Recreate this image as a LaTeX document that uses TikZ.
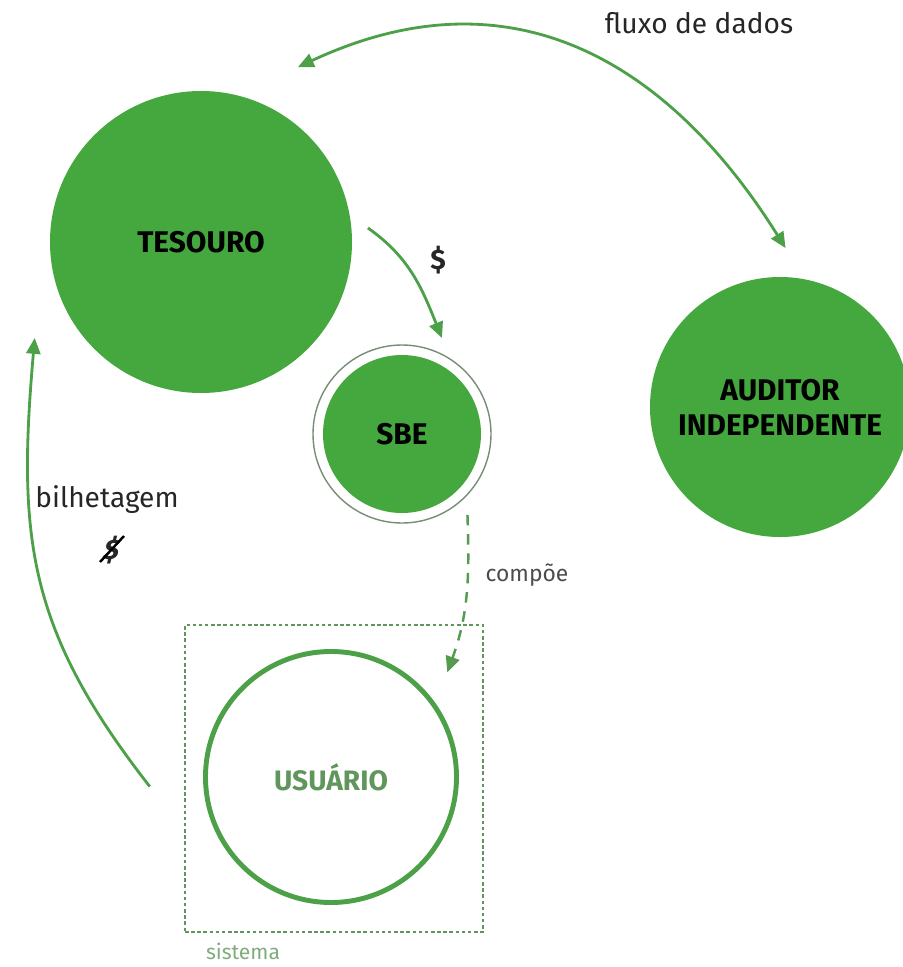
\documentclass[tikz,border=0pt]{standalone}
\usepackage{fontspec}
\setmainfont{Fira Sans}
\usepackage{tikz}
\usetikzlibrary{arrows.meta,calc}
\definecolor{leaf}{RGB}{68,168,62}
\definecolor{stem}{RGB}{76,160,72}
\definecolor{moss}{RGB}{96,150,92}
\definecolor{ash}{RGB}{120,140,120}

\begin{document}
\begin{tikzpicture}[
    bigdot/.style={circle, fill=leaf, inner sep=0pt, align=center,
                   font=\fontsize{17}{20}\selectfont\bfseries},
    flow/.style={stem, line width=1.6pt, -{Triangle[length=9pt,width=8pt]}},
    tag/.style={font=\fontsize{16}{19}\selectfont, text=black!85},
]
\useasboundingbox (0,0) rectangle (18.04,-19.34);

% Circles
\node[bigdot, minimum size=6.04cm] (tesouro) at (4.02,-4.84) {TESOURO};
\node[circle, draw=ash, line width=0.8pt, minimum size=3.56cm] (sbering) at (8.04,-8.68) {};
\node[bigdot, minimum size=3.16cm] (sbe) at (8.04,-8.68) {SBE};
\node[bigdot, minimum size=5.2cm] (auditor) at (15.6,-8.14) {AUDITOR\\INDEPENDENTE};

% System box
\node[draw=moss, line width=0.8pt, dash pattern=on 2pt off 1.5pt,
      minimum width=5.96cm, minimum height=6.14cm] (sistema) at (6.68,-15.57) {};
\node[circle, draw=stem, line width=2.8pt, minimum size=5.02cm, text=moss,
      font=\fontsize{16}{19}\selectfont\bfseries] (usuario) at (6.62,-15.54) {USUÁRIO};
\node[font=\fontsize{12}{14}\selectfont, text=moss!80] (sistemalbl) at (4.86,-19.02) {sistema};

% Data flow
\coordinate (fluxoT) at ($(tesouro)+(61:4.0)$);
\coordinate (fluxoA) at ($(auditor)+(88:3.18)$);
\draw[flow, {Triangle[length=9pt,width=8pt]}-{Triangle[length=9pt,width=8pt]}]
    (fluxoT) to[out=25, in=122, out distance=5cm, in distance=4cm] (fluxoA);
\node[tag] (fluxolbl) at (13.98,-0.46) {fluxo de dados};

% Money
\coordinate (payT) at ($(tesouro)+(4.8:3.35)$);
\coordinate (payS) at ($(sbe)+(67.4:2.08)$);
\draw[flow] (payT) to[out=-35, in=112] (payS);
\node[tag] (paylbl) at (8.76,-5.2) {\textbf{\$}};

% Composition
\coordinate (compS) at ($(sbe)+(-51:2.08)$);
\coordinate (compU) at ($(usuario)+(42:3.13)$);
\draw[flow, line width=1.4pt, dash pattern=on 6pt off 5pt, stem!85!gray]
    (compS) to[out=-88, in=70] (compU);
\node[font=\fontsize{13}{15}\selectfont, text=black!70] (complbl) at (10.54,-11.5) {compõe};

% Ticketing
\coordinate (billU) at ($(usuario)+(183:3.63)$);
\coordinate (billT) at ($(tesouro)+(210:3.84)$);
\draw[flow] (billU) to[out=128, in=-95, looseness=1.1] (billT);
\node[tag] (billlbl) at (2.14,-10.0) {bilhetagem};
\node[tag, xslant=0.25] (nopay) at (2.24,-11.0) {\textbf{\$}};
\draw[black, line width=1.4pt] ($(nopay.center)+(-0.24,-0.24)$) -- ($(nopay.center)+(0.24,0.28)$);
\end{tikzpicture}
\end{document}
